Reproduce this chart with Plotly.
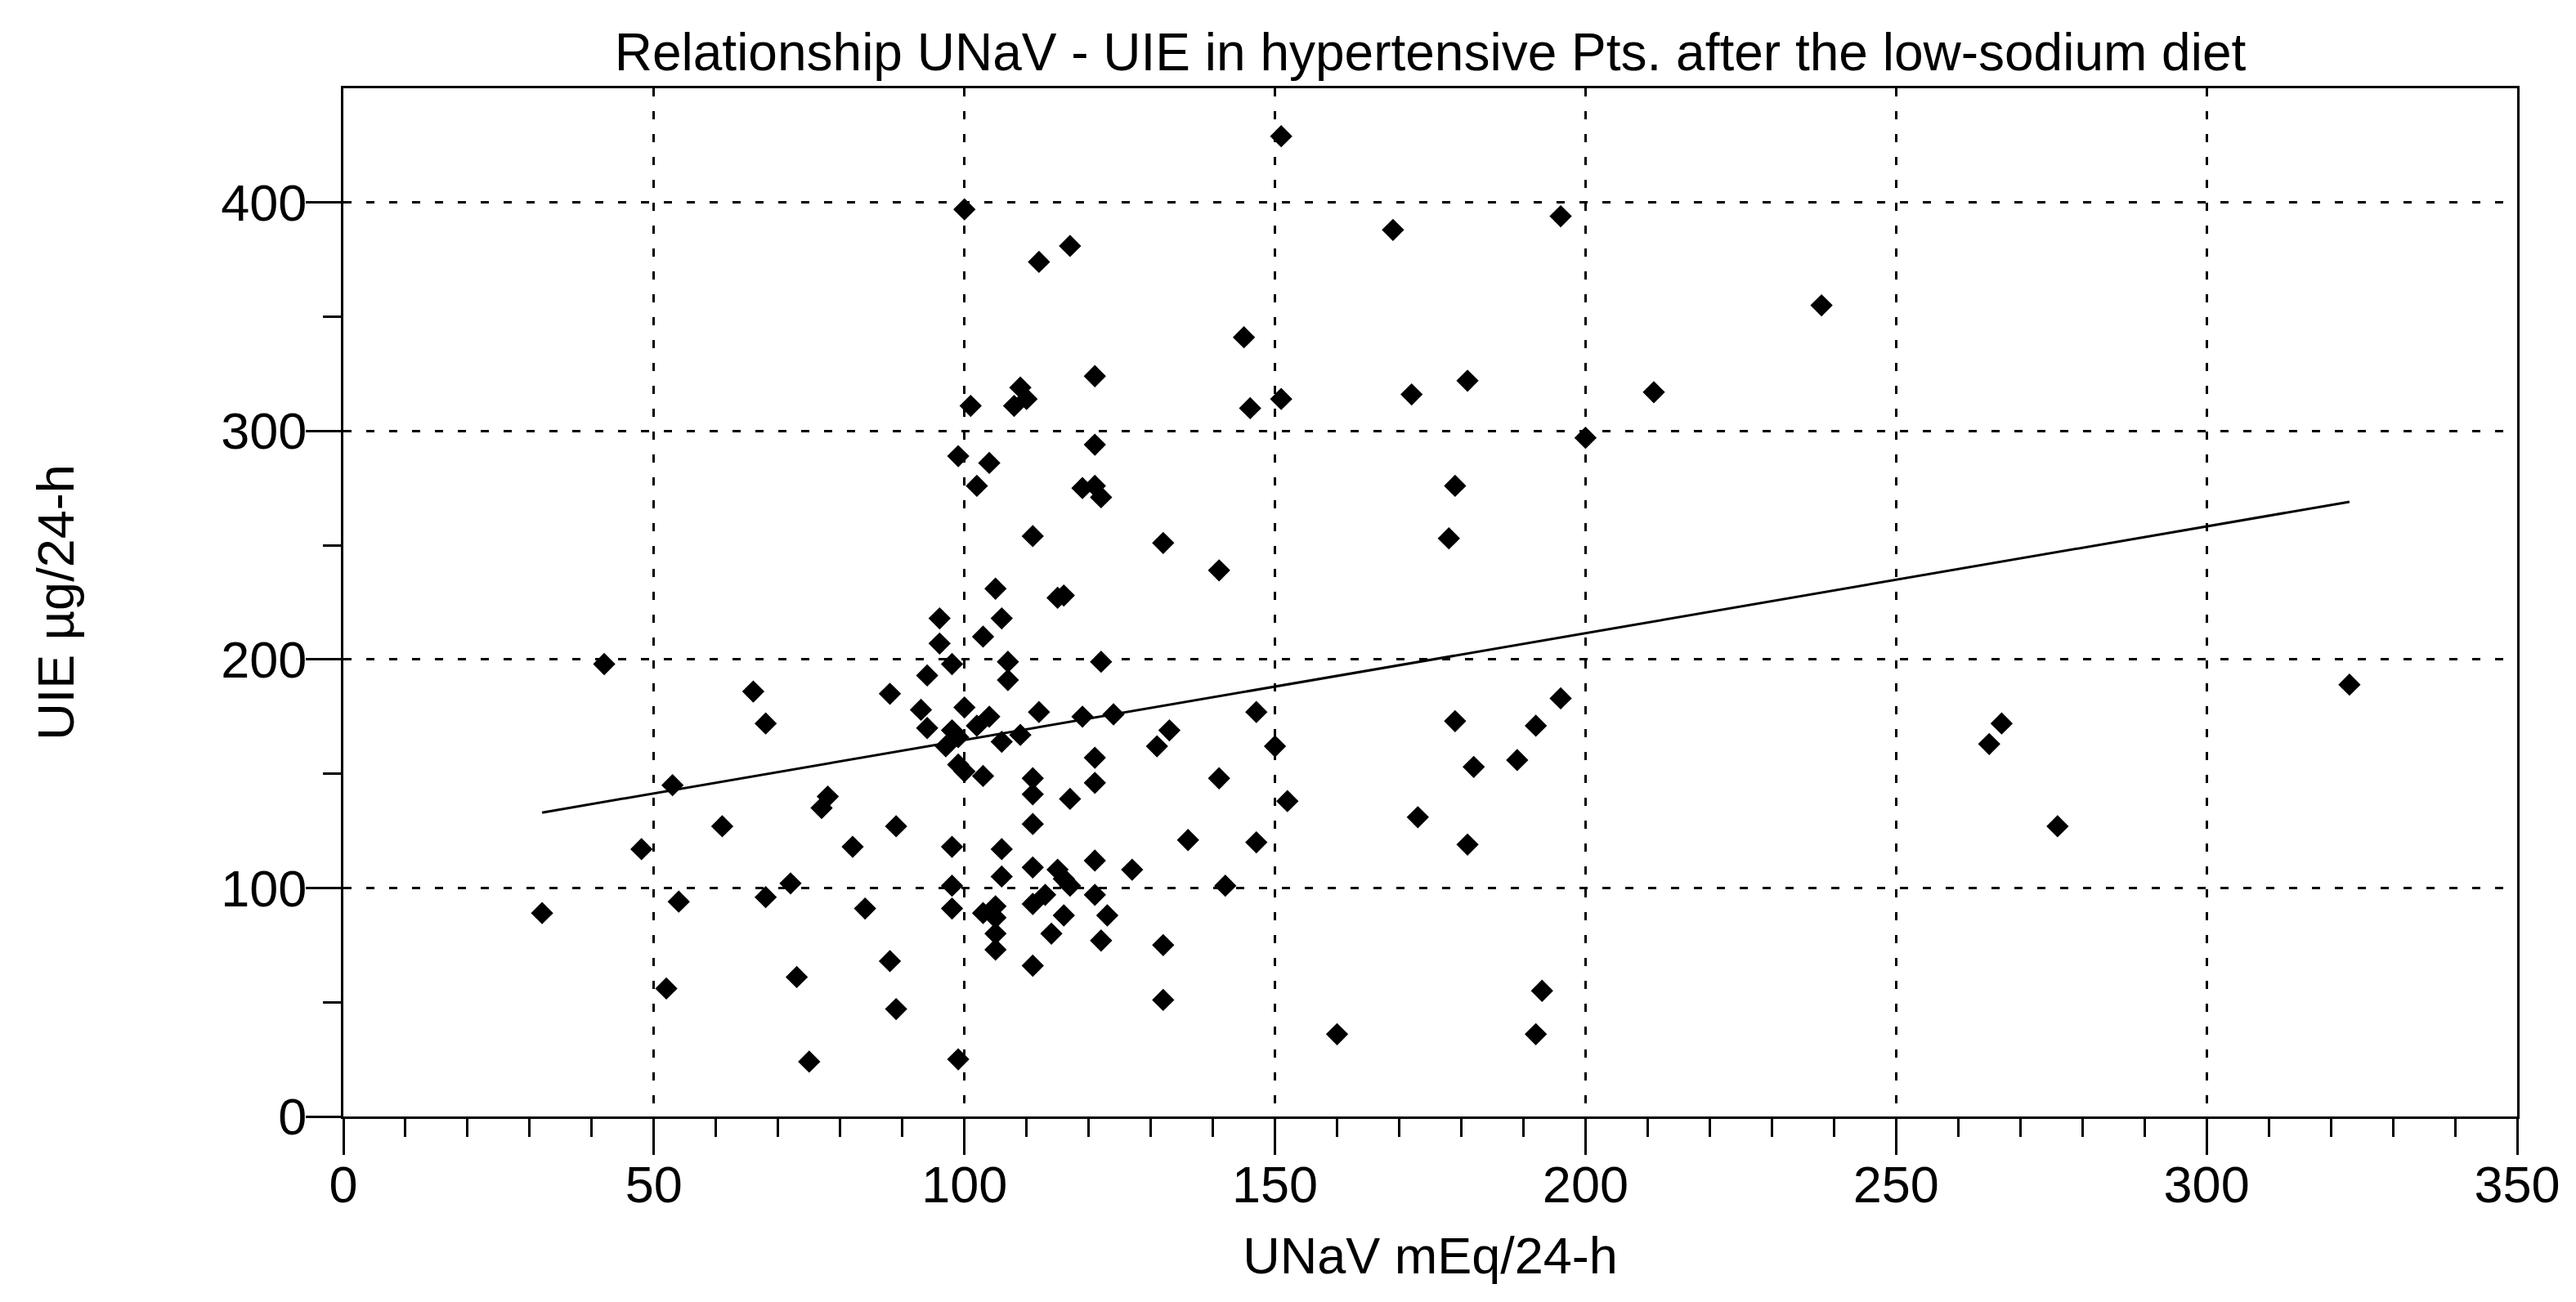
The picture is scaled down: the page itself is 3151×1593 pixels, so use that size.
import plotly.graph_objects as go

# UNaV (mEq/24-h) and UIE (ug/24-h)
unav = [32, 42, 48, 52, 53, 54, 61, 66, 68, 68, 72, 73, 75, 77, 78, 82, 84,
        88, 88, 89, 89, 93, 94, 94, 96, 96, 97, 98, 98, 98, 98, 98,
        99, 99, 99, 99, 100, 100, 100, 101, 102, 102, 103, 103, 103,
        104, 104, 105, 105, 105, 105, 105, 106, 106, 106, 106, 107, 107,
        108, 109, 109, 110, 111, 111, 111, 111, 111, 111, 111,
        112, 112, 113, 114, 115, 115, 116, 116, 116, 117, 117, 117,
        119, 119, 121, 121, 121, 121, 121, 121, 121, 122, 122, 122,
        123, 124, 127, 131, 132, 132, 132, 133,
        136, 141, 141, 142, 145, 146, 147, 147, 150, 151, 151, 152, 160,
        169, 172, 173, 178, 179, 179, 181, 181, 182, 189, 192, 192, 193,
        196, 196, 200, 211, 238, 265, 267, 276, 323]
uie = [89, 198, 117, 56, 145, 94, 127, 186, 172, 96, 102, 61, 24, 135, 140, 118, 91,
       185, 68, 127, 47, 178, 193, 170, 218, 207, 162, 198, 169, 118, 101, 91,
       166, 154, 289, 25, 397, 179, 151, 311, 276, 171, 210, 149, 89,
       286, 175, 231, 92, 87, 80, 73, 218, 164, 117, 105, 199, 191,
       311, 319, 167, 314, 254, 148, 141, 128, 109, 93, 66,
       374, 177, 97, 80, 227, 108, 228, 104, 88, 381, 139, 101,
       275, 175, 324, 294, 276, 157, 146, 112, 97, 271, 199, 77,
       88, 176, 108, 162, 251, 75, 51, 169,
       121, 239, 148, 101, 341, 310, 177, 120, 162, 429, 314, 138, 36,
       388, 316, 131, 253, 276, 173, 322, 119, 153, 156, 171, 36, 55,
       394, 183, 297, 317, 355, 163, 172, 127, 189]

# regression line ends, as drawn in the original
fit_x = [32, 323]
fit_y = [133, 269]

font = "Liberation Sans, Arial, Helvetica, sans-serif"

fig = go.Figure()
fig.add_trace(go.Scatter(x=fit_x, y=fit_y, mode="lines",
                         line=dict(color="black", width=3), showlegend=False))
fig.add_trace(go.Scatter(x=unav, y=uie, mode="markers",
                         marker=dict(symbol="diamond", size=21, color="black"),
                         showlegend=False))

fig.update_layout(
    width=3151, height=1593,
    paper_bgcolor="white", plot_bgcolor="white",
    margin=dict(l=412, r=80, t=100, b=235),
    font=dict(family=font, size=63, color="black"),
    title=dict(text="Relationship UNaV - UIE in hypertensive Pts. after the low-sodium diet",
               x=0.5, xref="paper", xanchor="center",
               y=1 - 56 / 1593, yanchor="middle",
               font=dict(family=font, size=64, color="black")),
)

fig.update_xaxes(
    range=[0, 350], dtick=50, tick0=0,
    showline=True, linecolor="black", linewidth=3, mirror=True,
    ticks="outside", ticklen=44, tickwidth=3, tickcolor="black",
    tickfont=dict(size=63), ticklabelstandoff=-18,
    showgrid=True, gridcolor="black", gridwidth=3, griddash="10px,18px",
    zeroline=False,
    minor=dict(dtick=10, ticks="outside", ticklen=22, tickwidth=3,
               tickcolor="black", showgrid=False),
    title=dict(text="UNaV mEq/24-h", standoff=32, font=dict(size=63)),
)
fig.update_yaxes(
    range=[0, 450], dtick=100, tick0=0,
    showline=True, linecolor="black", linewidth=3, mirror=True,
    ticks="outside", ticklen=43, tickwidth=3, tickcolor="black",
    tickfont=dict(size=63), ticklabelstandoff=-14,
    showgrid=True, gridcolor="black", gridwidth=3, griddash="10px,18px",
    zeroline=False,
    minor=dict(tickmode="array", tickvals=[50, 150, 250, 350], ticks="outside",
               ticklen=22, tickwidth=3, tickcolor="black", showgrid=False),
    title=dict(text="UIE µg/24-h", standoff=160, font=dict(size=63)),
)

fig.write_html("out.html")
